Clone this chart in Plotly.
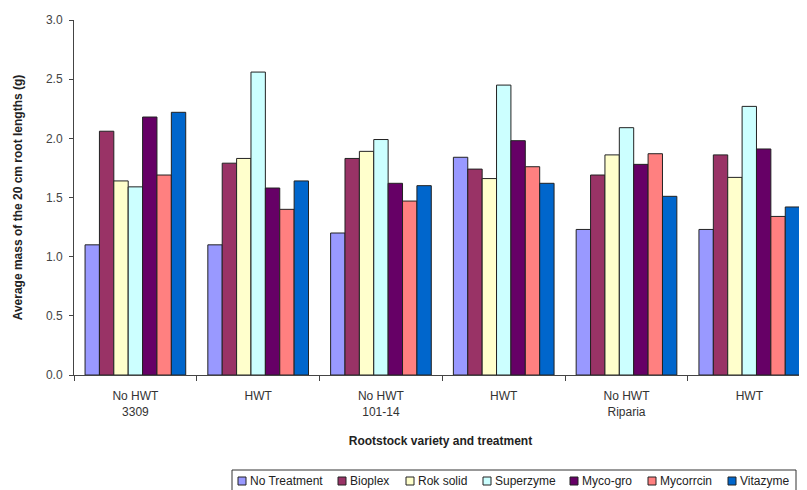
import plotly.graph_objects as go

groups = ["g1", "g2", "g3", "g4", "g5", "g6"]
group_labels = ["No HWT<br>3309", "HWT", "No HWT<br>101-14", "HWT", "No HWT<br>Riparia", "HWT"]

series_names = ["No Treatment", "Bioplex", "Rok solid", "Superzyme", "Myco-gro", "Mycorrcin", "Vitazyme"]
series_colors = ["#9999FF", "#993366", "#FFFFCC", "#CCFFFF", "#660066", "#FF8080", "#0066CC"]

no_treatment = [1.10, 1.10, 1.20, 1.84, 1.23, 1.23]
bioplex      = [2.06, 1.79, 1.83, 1.74, 1.69, 1.86]
rok_solid    = [1.64, 1.83, 1.89, 1.66, 1.86, 1.67]
superzyme    = [1.59, 2.56, 1.99, 2.45, 2.09, 2.27]
myco_gro     = [2.18, 1.58, 1.62, 1.98, 1.78, 1.91]
mycorrcin    = [1.69, 1.40, 1.47, 1.76, 1.87, 1.34]
vitazyme     = [2.22, 1.64, 1.60, 1.62, 1.51, 1.42]

series_values = [no_treatment, bioplex, rok_solid, superzyme, myco_gro, mycorrcin, vitazyme]

y_ticks = [0.0, 0.5, 1.0, 1.5, 2.0, 2.5, 3.0]
y_tick_labels = ["0.0", "0.5", "1.0", "1.5", "2.0", "2.5", "3.0"]

font_family = "Liberation Sans, Arial, sans-serif"

# The page body has an 8px default margin; size the figure so it fills the window.
OFF = 8
W, H = 807 - OFF, 490 - OFF
# plot area in page pixels: x 74..807, y 20..375
ML, MR, MT, MB = 74 - OFF, 0, 20 - OFF, H - (375 - OFF)

fig = go.Figure()
for name, color, vals in zip(series_names, series_colors, series_values):
    fig.add_trace(go.Bar(
        x=groups, y=vals, name=name,
        marker=dict(color=color, line=dict(color="#222222", width=1)),
        showlegend=False,
    ))

# Manual compact legend (Excel-style); laid out in page pixels, converted to paper coords
leg_font = 12
text_w = {"No Treatment": 74, "Bioplex": 42, "Rok solid": 51, "Superzyme": 61,
          "Myco-gro": 52, "Mycorrcin": 54, "Vitazyme": 50}
plot_w = W - ML - MR
plot_h = H - MT - MB
def px_to_paper_x(px):
    return (px - OFF - ML) / plot_w
def px_to_paper_y(py):
    return (H - MB - (py - OFF)) / plot_h

shapes = []
annotations = []
box_left = 232
box_top = 470
box_bottom = 494
sq = 8
cursor = box_left + 6
cy = 481
for name, color in zip(series_names, series_colors):
    shapes.append(dict(
        type="rect", xref="paper", yref="paper",
        x0=px_to_paper_x(cursor), x1=px_to_paper_x(cursor + sq),
        y0=px_to_paper_y(cy + sq / 2), y1=px_to_paper_y(cy - sq / 2),
        fillcolor=color, line=dict(color="#222222", width=1),
    ))
    annotations.append(dict(
        x=px_to_paper_x(cursor + sq + 2), y=px_to_paper_y(cy), xref="paper", yref="paper",
        text=name, showarrow=False, xanchor="left", yanchor="middle",
        font=dict(size=leg_font, family=font_family, color="#222222"),
    ))
    cursor += sq + 2 + text_w[name] + 16
box_right = cursor - 8
shapes.insert(0, dict(
    type="rect", xref="paper", yref="paper",
    x0=px_to_paper_x(box_left), x1=px_to_paper_x(box_right),
    y0=px_to_paper_y(box_bottom), y1=px_to_paper_y(box_top),
    fillcolor="white", line=dict(color="#333333", width=1), layer="below",
))

fig.update_layout(
    width=W, height=H,
    margin=dict(l=ML, r=MR, t=MT, b=MB, autoexpand=False),
    paper_bgcolor="white", plot_bgcolor="white",
    barmode="group", bargap=0.18, bargroupgap=0,
    font=dict(family=font_family, size=12, color="#222222"),
    showlegend=False,
    shapes=shapes,
    annotations=annotations,
    xaxis=dict(
        type="category", range=[-0.5, 5.47],
        tickmode="array", tickvals=groups, ticktext=group_labels,
        tickson="boundaries", ticks="outside", ticklen=5, tickcolor="#444444",
        ticklabelstandoff=10,
        showline=True, linecolor="#444444", linewidth=1,
        showgrid=False, zeroline=False, automargin=False,
        tickfont=dict(size=12, color="#333333"),
        title=dict(text="<b>Rootstock variety and treatment</b>", font=dict(size=12, color="#222222"), standoff=18),
    ),
    yaxis=dict(
        range=[0, 3.0], tickmode="array", tickvals=y_ticks, ticktext=y_tick_labels,
        ticks="outside", ticklen=4, tickcolor="#444444",
        ticklabelstandoff=4,
        showline=True, linecolor="#444444", linewidth=1,
        showgrid=False, zeroline=False, automargin=False,
        tickfont=dict(size=12, color="#444444"),
        title=dict(text="<b>Average mass of the 20 cm root lengths (g)</b>", font=dict(size=12, color="#222222"), standoff=20),
    ),
)

fig.write_html("out.html")
